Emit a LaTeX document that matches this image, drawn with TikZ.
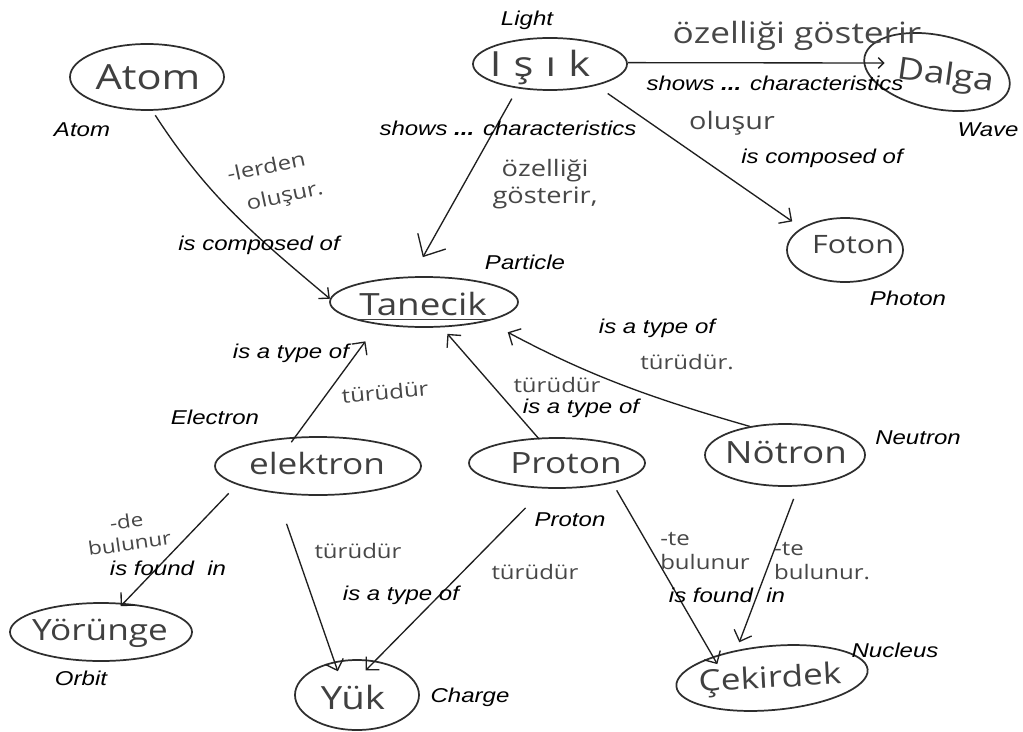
\documentclass[tikz,border=0pt]{standalone}
\usepackage{fontspec}
\usetikzlibrary{arrows.meta,shapes.geometric}
\newfontfamily\enfont{Liberation Sans}[FakeStretch=1.2]
\newfontfamily\handfont{Open Sans}[FakeStretch=1.2]
\newcommand\hsz[1]{\handfont\fontsize{#1}{#1}\selectfont}
\newcommand\ensz{\enfont\itshape\fontsize{15}{17}\selectfont}

\tikzset{
  concept/.style={ellipse, draw=black!82, line width=1.3pt, inner sep=0pt},
  ctext/.style={text=black!75, inner sep=0pt},
  en/.style={font=\ensz, text=black, inner sep=0pt},
  hw/.style={text=black!72, inner sep=0pt, align=center},
  link/.style={draw=black!88, line width=1pt,
    -{Straight Barb[length=7pt,width=14pt,line width=1pt]}},
  bigtip/.style={-{Straight Barb[length=13pt,width=24pt,line width=1pt]}},
  smalltip/.style={-{Straight Barb[length=4pt,width=8pt,line width=1pt]}},
  midtip/.style={-{Straight Barb[length=6pt,width=11pt,line width=1pt]}},
}

\begin{document}
\begin{tikzpicture}[x=0.75pt,y=0.75pt]
\useasboundingbox (0,0) rectangle (1023,-731);
\fill[white] (0,0) rectangle (1023,-731);

% concepts (hand-drawn ellipses)
\node[concept, minimum width=115.5pt, minimum height=49.5pt] (atom)     at (147,-77)  {};
\node[concept, minimum width=115.5pt, minimum height=39pt]   (isik)     at (550,-64)  {};
\node[concept, minimum width=111pt,   minimum height=55pt, rotate=-12] (dalga) at (937,-72) {};
\node[concept, minimum width=87pt,    minimum height=48pt]   (foton)    at (845,-250) {};
\node[concept, minimum width=141pt,   minimum height=37.5pt] (tanecik)  at (424,-302) {};
\node[concept, minimum width=154.5pt, minimum height=43.5pt] (elektron) at (318,-466) {};
\node[concept, minimum width=132pt,   minimum height=37.5pt] (proton)   at (557,-463) {};
\node[concept, minimum width=120pt,   minimum height=46.5pt] (notron)   at (785,-455) {};
\node[concept, minimum width=136.5pt, minimum height=43.5pt] (yorunge)  at (101,-632) {};
\node[concept, minimum width=93pt,    minimum height=52.5pt] (yuk)      at (357,-695) {};
\node[concept, minimum width=144pt,   minimum height=48pt, rotate=5] (cekirdek) at (772,-678) {};

% handwritten concept names
\node[ctext, font={\hsz{26}}] (atomT)     at (148,-77)  {Atom};
\node[ctext, font={\hsz{26}}] (isikT)     at (540,-67)  {I\hspace{0.35em}ş\hspace{0.35em}ı\hspace{0.35em}k};
\node[ctext, font={\hsz{23}}, rotate=-8] (dalgaT) at (946,-77) {Dalga};
\node[ctext, font={\hsz{19}}] (fotonT)    at (853,-245) {Foton};
\node[ctext, font={\hsz{23}}] (tanecikT)  at (423,-304) {Tanecik};
\draw[black!75, line width=0.9pt] ([xshift=-4pt,yshift=-2.5pt]tanecikT.south west) -- ([xshift=4pt,yshift=-2.5pt]tanecikT.south east);
\node[ctext, font={\hsz{22}}] (elektronT) at (317,-463) {elektron};
\node[ctext, font={\hsz{22}}] (protonT)   at (566,-463) {Proton};
\node[ctext, font={\hsz{23}}] (notronT)   at (786,-452) {Nötron};
\node[ctext, font={\hsz{22}}] (yorungeT)  at (100,-633) {Yörünge};
\node[ctext, font={\hsz{24}}] (yukT)      at (353,-697) {Yük};
\node[ctext, font={\hsz{22}}, rotate=3] (cekirdekT) at (770,-680) {Çekirdek};

% English glosses of the concepts
\node[en] (lAtom)     at (82,-130)  {Atom};
\node[en] (lLight)    at (527,-20)  {Light};
\node[en] (lWave)     at (988,-130) {Wave};
\node[en] (lParticle) at (525,-262) {Particle};
\node[en] (lPhoton)   at (908,-298) {Photon};
\node[en] (lElectron) at (215,-417) {Electron};
\node[en] (lNeutron)  at (918,-438) {Neutron};
\node[en] (lProton)   at (570,-520) {Proton};
\node[en] (lOrbit)    at (81,-678)  {Orbit};
\node[en] (lCharge)   at (470,-697) {Charge};
\node[en] (lNucleus)  at (895,-650) {Nucleus};

% connectors
\draw[link, midtip, shorten <=4pt] (atom.-81) to[out=-57,in=140] (tanecik.178);
\draw[link, bigtip, shorten <=8.8pt, shorten >=16.5pt] (isik.-143) -- (tanecik.115);
\draw[link, smalltip, shorten >=-15.75pt] (isik.1) -- (dalga.185);
\draw[link, shorten <=10.4pt, shorten >=8.5pt] (isik.-25) -- (foton.153);
\draw[link, shorten <=-5pt, shorten >=15.6pt] (elektron.128) -- (tanecik.206);
\draw[link, shorten <=-1.5pt, shorten >=6.4pt] (proton.127) -- (tanecik.-55);
\draw[link, shorten >=17.5pt] (notron.141) to[out=164,in=-28] (tanecik.-17.5);
\draw[link, shorten <=9pt, shorten >=-3.2pt] (elektron.-167) -- (yorunge.52);
\draw[link, shorten <=24.2pt, shorten >=-7.7pt] (elektron.-147) -- (yuk.124);
\draw[link, shorten <=20.3pt, shorten >=-10.3pt] (proton.-116) -- (yuk.62);
\draw[link, shorten <=6.2pt, shorten >=-6.6pt] (proton.-20) -- (cekirdek.155);
\draw[link, shorten <=10pt, shorten >=6.3pt] (notron.-67) -- (cekirdek.137);

% handwritten link phrases
\node[hw, font={\hsz{15}}, rotate=12] (hLerden) at (270,-184) {-lerden\\[9pt]\hspace*{1.2em}oluşur.};
\node[hw, font={\hsz{22}}] (hOzTop)  at (797,-36)  {özelliği gösterir};
\node[hw, font={\hsz{17}}] (hOzLeft) at (545,-184) {özelliği\\[3pt]gösterir,};
\node[hw, font={\hsz{18}}] (hOlusur) at (732,-123) {oluşur};
\node[hw, font={\hsz{15}}, rotate=5] (hTurE) at (385,-392) {türüdür};
\node[hw, font={\hsz{15}}] (hTurP)   at (557,-385) {türüdür};
\node[hw, font={\hsz{15}}] (hTurN)   at (687,-362) {türüdür.};
\node[hw, font={\hsz{14}}, rotate=8] (hDe) at (128,-532) {-de\\[3pt]bulunur};
\node[hw, font={\hsz{15}}] (hTurEY)  at (358,-551) {türüdür};
\node[hw, font={\hsz{15}}] (hTurPY)  at (535,-572) {türüdür};
\node[hw, font={\hsz{15}}, align=left] (hTeP) at (705,-551) {-te\\[3pt]bulunur};
\node[hw, font={\hsz{15}}, align=left] (hTeN) at (822,-561) {-te\\[3pt]bulunur.};

% English glosses of the links
\node[en] (eComp1)  at (259,-245) {is composed of};
\node[en] (eShows1) at (508,-128) {shows {\bfseries ...} characteristics};
\node[en] (eShows2) at (775,-83)  {shows {\bfseries ...} characteristics};
\node[en] (eComp2)  at (822,-158) {is composed of};
\node[en] (eTypeE)  at (291,-353) {is a type of};
\node[en] (eTypeP)  at (581,-408) {is a type of};
\node[en] (eTypeN)  at (657,-328) {is a type of};
\node[en] (eFound1) at (168,-568) {is found\ \ in};
\node[en] (eTypeY)  at (401,-595) {is a type of};
\node[en] (eFound2) at (727,-595) {is found\ \ in};
\end{tikzpicture}
\end{document}
